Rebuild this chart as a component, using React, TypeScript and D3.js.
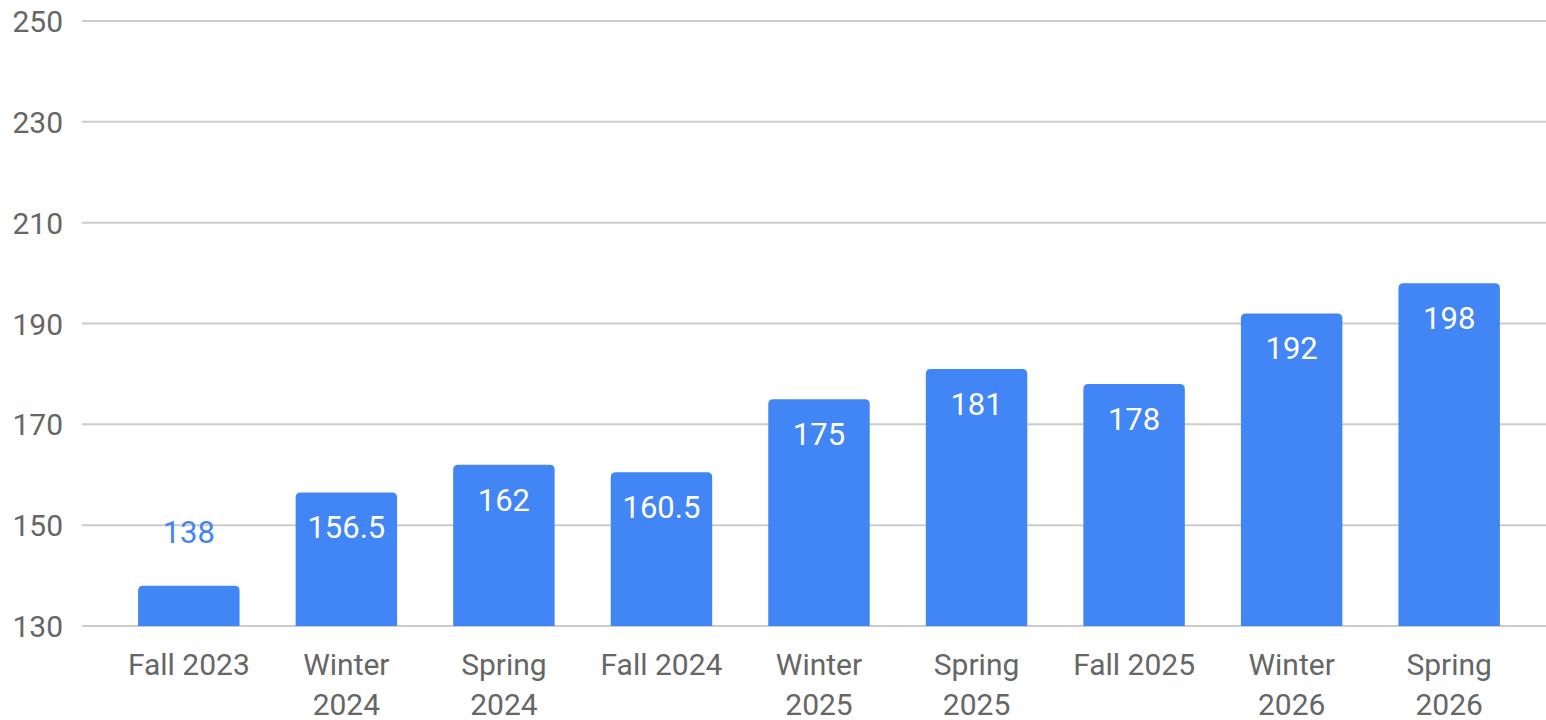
import React from "react";
import * as d3 from "d3";

const categories: string[][] = [
  ["Fall 2023"],
  ["Winter", "2024"],
  ["Spring", "2024"],
  ["Fall 2024"],
  ["Winter", "2025"],
  ["Spring", "2025"],
  ["Fall 2025"],
  ["Winter", "2026"],
  ["Spring", "2026"],
];
const values: number[] = [138, 156.5, 162, 160.5, 175, 181, 178, 192, 198];
const valueLabels: string[] = ["138", "156.5", "162", "160.5", "175", "181", "178", "192", "198"];
const yTicks: number[] = [130, 150, 170, 190, 210, 230, 250];

const W = 1546;
const H = 720;
const BAR = "#4285f4";

function topRoundedRect(x: number, y: number, w: number, h: number, r: number) {
  const rr = Math.min(r, h, w / 2);
  return `M${x},${y + h}V${y + rr}Q${x},${y} ${x + rr},${y}H${x + w - rr}Q${x + w},${y} ${x + w},${y + rr}V${y + h}Z`;
}

export default function App() {
  const keys = categories.map((c) => c.join(" "));
  const x = d3.scaleBand<string>().domain(keys).range([82, 1556]).paddingInner(0.356).paddingOuter(0.356);
  const y = d3.scaleLinear().domain([130, 250]).range([626, 21]);
  const bw = x.bandwidth();
  const font = "Roboto, 'Noto Sans', sans-serif";

  return (
    <div style={{ position: "fixed", left: 0, top: 0, width: W, height: H, background: "#fff" }}>
      <svg width={W} height={H} style={{ display: "block" }}>
        <rect x={0} y={0} width={W} height={H} fill="#fff" />
        {yTicks.map((t) => (
          <g key={t}>
            <line x1={82} x2={W} y1={y(t)} y2={y(t)} stroke="#cccccc" strokeWidth={2} />
            <text x={63} y={y(t) + 11} textAnchor="end" fontFamily={font} fontSize={30} fill="#666666">
              {t}
            </text>
          </g>
        ))}
        {values.map((v, i) => {
          const bx = x(keys[i]) as number;
          const top = y(v);
          const h = y(130) - top;
          const inside = h > 60;
          return (
            <g key={keys[i]}>
              <path d={topRoundedRect(bx, top, bw, h, 5)} fill={BAR} />
              <text
                x={bx + bw / 2}
                y={inside ? top + 46 : top - 43}
                textAnchor="middle"
                fontFamily={font}
                fontSize={31}
                fill={inside ? "#ffffff" : BAR}
              >
                {valueLabels[i]}
              </text>
            </g>
          );
        })}
        {categories.map((lines, i) => {
          const cx = (x(keys[i]) as number) + bw / 2;
          return (
            <text key={keys[i]} textAnchor="middle" fontFamily={font} fontSize={30} fill="#666666">
              {lines.map((l, j) => (
                <tspan key={j} x={cx} y={675 + j * 40}>
                  {l}
                </tspan>
              ))}
            </text>
          );
        })}
      </svg>
    </div>
  );
}
